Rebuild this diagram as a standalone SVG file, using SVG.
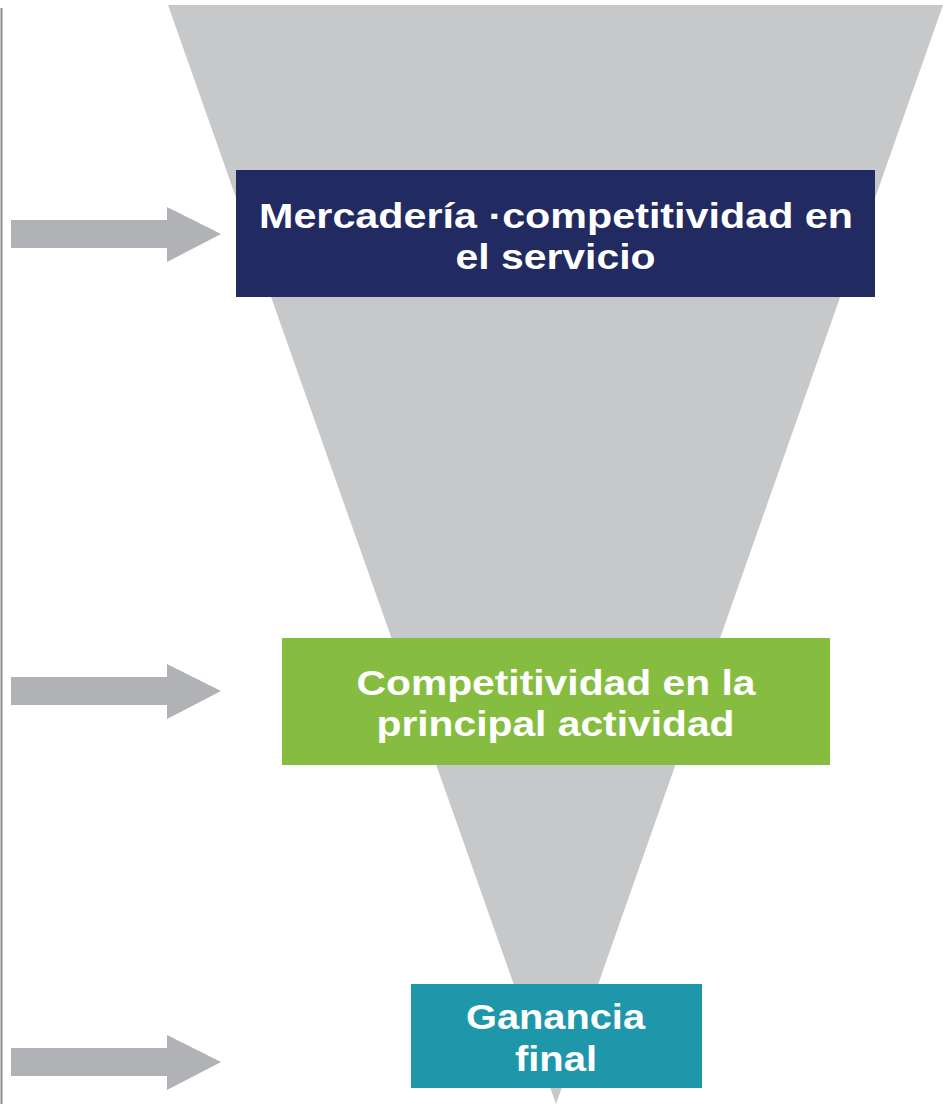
<svg xmlns="http://www.w3.org/2000/svg" width="943" height="1104" viewBox="0 0 943 1104">
  <style>
    .lbl { font-family: "Liberation Sans", Arial, sans-serif; font-weight: bold; font-size: 35px; fill: #ffffff; text-anchor: middle; }
    .arrow { fill: #B1B2B5; }
  </style>
  <defs>
    <polygon id="arr" points="11,-14 167,-14 167,-27 221,0 167,28 167,14 11,14"/>
  </defs>
  <rect width="943" height="1104" fill="#ffffff"/>
  <line x1="1.5" y1="8" x2="1.5" y2="1104" stroke="#8A8C8C" stroke-width="2"/>
  <g id="funnel">
    <polygon points="168,5 943,5 556,1104" fill="#C7C8CA"/>
  </g>
  <g id="connectors">
    <use href="#arr" class="arrow" transform="translate(0,234)"/>
    <use href="#arr" class="arrow" transform="translate(0,691)"/>
    <use href="#arr" class="arrow" transform="translate(0,1062)"/>
  </g>
  <g id="node-mercaderia">
    <rect x="236" y="170" width="639" height="127" fill="#222A62"/>
    <text class="lbl" x="556" y="228" textLength="594" lengthAdjust="spacingAndGlyphs">Mercadería ·competitividad en</text>
    <text class="lbl" x="555.5" y="269" textLength="200" lengthAdjust="spacingAndGlyphs">el servicio</text>
  </g>
  <g id="node-competitividad">
    <rect x="282" y="638" width="548" height="127" fill="#86BD41"/>
    <text class="lbl" x="556" y="695" textLength="399" lengthAdjust="spacingAndGlyphs">Competitividad en la</text>
    <text class="lbl" x="555.5" y="736" textLength="358" lengthAdjust="spacingAndGlyphs">principal actividad</text>
  </g>
  <g id="node-ganancia">
    <rect x="411" y="984" width="291" height="104" fill="#1F97AA"/>
    <text class="lbl" x="555.5" y="1029" textLength="179" lengthAdjust="spacingAndGlyphs">Ganancia</text>
    <text class="lbl" x="556" y="1071" textLength="82" lengthAdjust="spacingAndGlyphs">final</text>
  </g>
</svg>
